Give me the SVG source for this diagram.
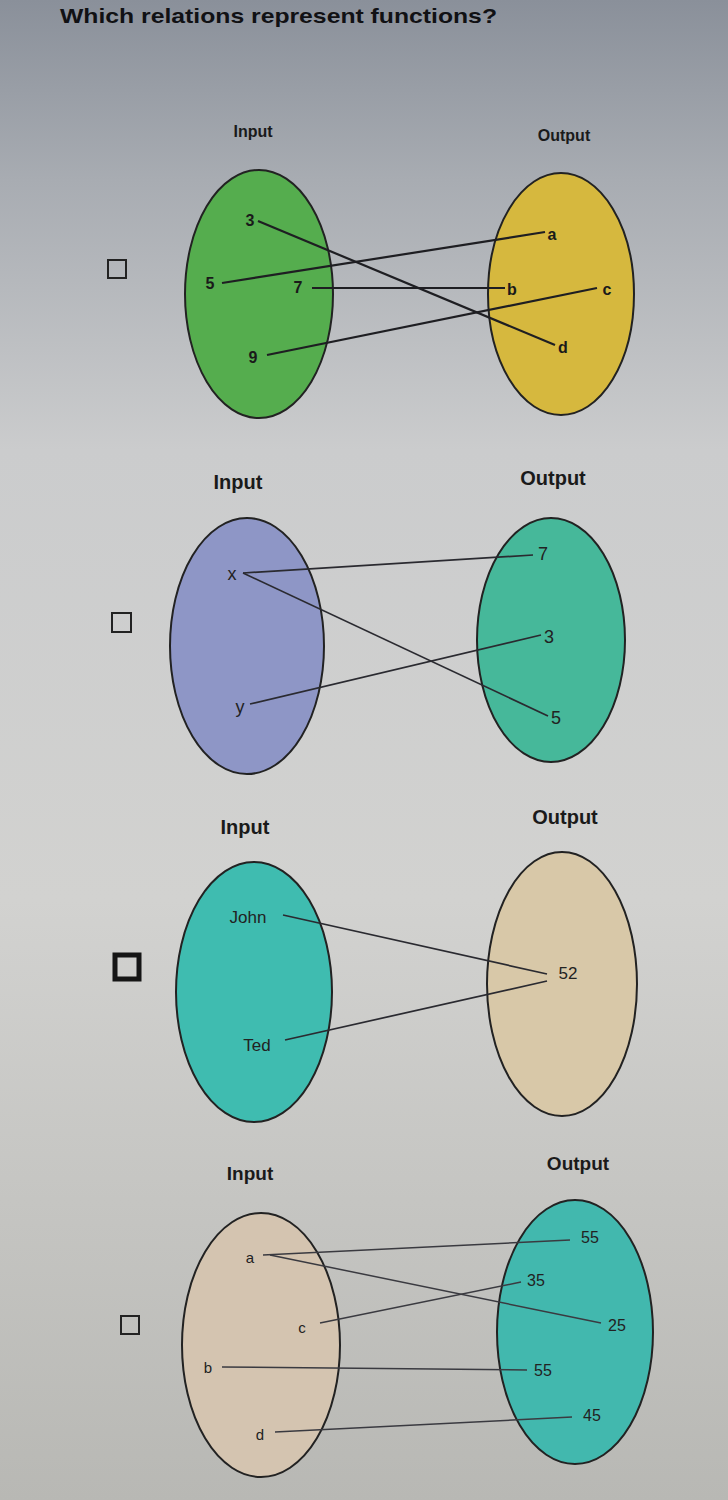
<svg xmlns="http://www.w3.org/2000/svg" width="728" height="1500" viewBox="0 0 728 1500">
<defs>
<linearGradient id="bg" x1="0" y1="0" x2="0" y2="1">
<stop offset="0" stop-color="#8a909a"/>
<stop offset="0.12" stop-color="#a8acb2"/>
<stop offset="0.3" stop-color="#cbcccd"/>
<stop offset="0.6" stop-color="#d2d2d0"/>
<stop offset="1" stop-color="#b8b8b4"/>
</linearGradient>
</defs>
<style>
.ttl{font-family:"Liberation Sans",Arial,sans-serif;font-weight:bold;font-size:21px;fill:#111114}
.hd{font-family:"Liberation Sans",Arial,sans-serif;font-weight:bold;fill:#1a1a1a}
.it{font-family:"Liberation Sans",Arial,sans-serif;fill:#222}
.itb{font-family:"Liberation Sans",Arial,sans-serif;font-weight:bold;fill:#1a1a1a}
.ell{stroke:#222;stroke-width:2}
.ln{stroke:#1e1e22;stroke-width:2.2;fill:none}
.ln2{stroke:#2a2a30;stroke-width:1.7;fill:none}
.ln4{stroke:#3a3a40;stroke-width:1.5;fill:none}
.cb{fill:none;stroke:#222;stroke-width:2}
</style>
<rect x="0" y="0" width="728" height="1500" fill="url(#bg)"/>
<text class="ttl" x="60" y="23" textLength="437" lengthAdjust="spacingAndGlyphs">Which relations represent functions?</text>

<g id="checkbox1"><rect class="cb" x="108" y="260" width="18" height="18"/></g>
<g id="checkbox2"><rect class="cb" x="112" y="613" width="19" height="19"/></g>
<g id="checkbox3"><rect x="115" y="955" width="24" height="24" fill="none" stroke="#151515" stroke-width="5"/></g>
<g id="checkbox4"><rect class="cb" x="121" y="1316" width="18" height="18" stroke="#555"/></g>

<!-- Diagram 1 -->
<g id="d1-input">
<text class="hd" x="253" y="137" font-size="16" text-anchor="middle">Input</text>
<ellipse class="ell" cx="259" cy="294" rx="74" ry="124" fill="#55ad4e"/>
<text class="itb" x="250" y="226" font-size="16" text-anchor="middle">3</text>
<text class="itb" x="210" y="289" font-size="16" text-anchor="middle">5</text>
<text class="itb" x="298" y="293" font-size="16" text-anchor="middle">7</text>
<text class="itb" x="253" y="363" font-size="16" text-anchor="middle">9</text>
</g>
<g id="d1-output">
<text class="hd" x="564" y="141" font-size="16" text-anchor="middle">Output</text>
<ellipse class="ell" cx="561" cy="294" rx="73" ry="121" fill="#d6b83e"/>
<text class="itb" x="552" y="240" font-size="16" text-anchor="middle">a</text>
<text class="itb" x="512" y="295" font-size="16" text-anchor="middle">b</text>
<text class="itb" x="607" y="295" font-size="16" text-anchor="middle">c</text>
<text class="itb" x="563" y="353" font-size="16" text-anchor="middle">d</text>
</g>

<!-- Diagram 2 -->
<g id="d2-input">
<text class="hd" x="238" y="489" font-size="20" text-anchor="middle">Input</text>
<ellipse class="ell" cx="247" cy="646" rx="77" ry="128" fill="#8e96c6" stroke-width="1.6"/>
<text class="it" x="232" y="580" font-size="18" text-anchor="middle">x</text>
<text class="it" x="240" y="713" font-size="18" text-anchor="middle">y</text>
</g>
<g id="d2-output">
<text class="hd" x="553" y="485" font-size="20" text-anchor="middle">Output</text>
<ellipse class="ell" cx="551" cy="640" rx="74" ry="122" fill="#46b89a" stroke-width="1.6"/>
<text class="it" x="543" y="560" font-size="18" text-anchor="middle">7</text>
<text class="it" x="549" y="643" font-size="18" text-anchor="middle">3</text>
<text class="it" x="556" y="724" font-size="18" text-anchor="middle">5</text>
</g>

<!-- Diagram 3 -->
<g id="d3-input">
<text class="hd" x="245" y="834" font-size="20" text-anchor="middle">Input</text>
<ellipse class="ell" cx="254" cy="992" rx="78" ry="130" fill="#3fbcb0" stroke-width="1.6"/>
<text class="it" x="248" y="923" font-size="17" text-anchor="middle" fill="#2a3a38">John</text>
<text class="it" x="257" y="1051" font-size="17" text-anchor="middle" fill="#2a3a38">Ted</text>
</g>
<g id="d3-output">
<text class="hd" x="565" y="824" font-size="20" text-anchor="middle">Output</text>
<ellipse class="ell" cx="562" cy="984" rx="75" ry="132" fill="#d8c8a8" stroke="#444" stroke-width="1.4"/>
<text class="it" x="568" y="979" font-size="17" text-anchor="middle" fill="#333">52</text>
</g>

<!-- Diagram 4 -->
<g id="d4-input">
<text class="hd" x="250" y="1180" font-size="19" text-anchor="middle" fill="#333">Input</text>
<ellipse class="ell" cx="261" cy="1345" rx="79" ry="132" fill="#d4c4b0" stroke="#555" stroke-width="1.3"/>
<text class="it" x="250" y="1263" font-size="15" text-anchor="middle" fill="#666">a</text>
<text class="it" x="302" y="1333" font-size="15" text-anchor="middle" fill="#666">c</text>
<text class="it" x="208" y="1373" font-size="15" text-anchor="middle" fill="#666">b</text>
<text class="it" x="260" y="1440" font-size="15" text-anchor="middle" fill="#666">d</text>
</g>
<g id="d4-output">
<text class="hd" x="578" y="1170" font-size="19" text-anchor="middle" fill="#333">Output</text>
<ellipse class="ell" cx="575" cy="1332" rx="78" ry="132" fill="#42b8ae" stroke="#555" stroke-width="1.3"/>
<text class="it" x="590" y="1243" font-size="16" text-anchor="middle" fill="#555">55</text>
<text class="it" x="536" y="1286" font-size="16" text-anchor="middle" fill="#555">35</text>
<text class="it" x="617" y="1331" font-size="16" text-anchor="middle" fill="#555">25</text>
<text class="it" x="543" y="1376" font-size="16" text-anchor="middle" fill="#555">55</text>
<text class="it" x="592" y="1421" font-size="16" text-anchor="middle" fill="#555">45</text>
</g>

<g id="connectors">
<line class="ln" x1="258" y1="221" x2="555" y2="345"/>
<line class="ln" x1="222" y1="283" x2="545" y2="232"/>
<line class="ln" x1="312" y1="288" x2="505" y2="288"/>
<line class="ln" x1="267" y1="355" x2="597" y2="288"/>

<line class="ln2" x1="243" y1="573" x2="533" y2="555"/>
<line class="ln2" x1="243" y1="573" x2="548" y2="716"/>
<line class="ln2" x1="250" y1="704" x2="541" y2="635"/>

<line class="ln2" x1="283" y1="915" x2="547" y2="974"/>
<line class="ln2" x1="285" y1="1040" x2="547" y2="981"/>

<line class="ln4" x1="263" y1="1255" x2="570" y2="1240"/>
<line class="ln4" x1="270" y1="1255" x2="601" y2="1323"/>
<line class="ln4" x1="320" y1="1323" x2="521" y2="1282"/>
<line class="ln4" x1="222" y1="1367" x2="527" y2="1370"/>
<line class="ln4" x1="275" y1="1432" x2="572" y2="1417"/>
</g>
</svg>
